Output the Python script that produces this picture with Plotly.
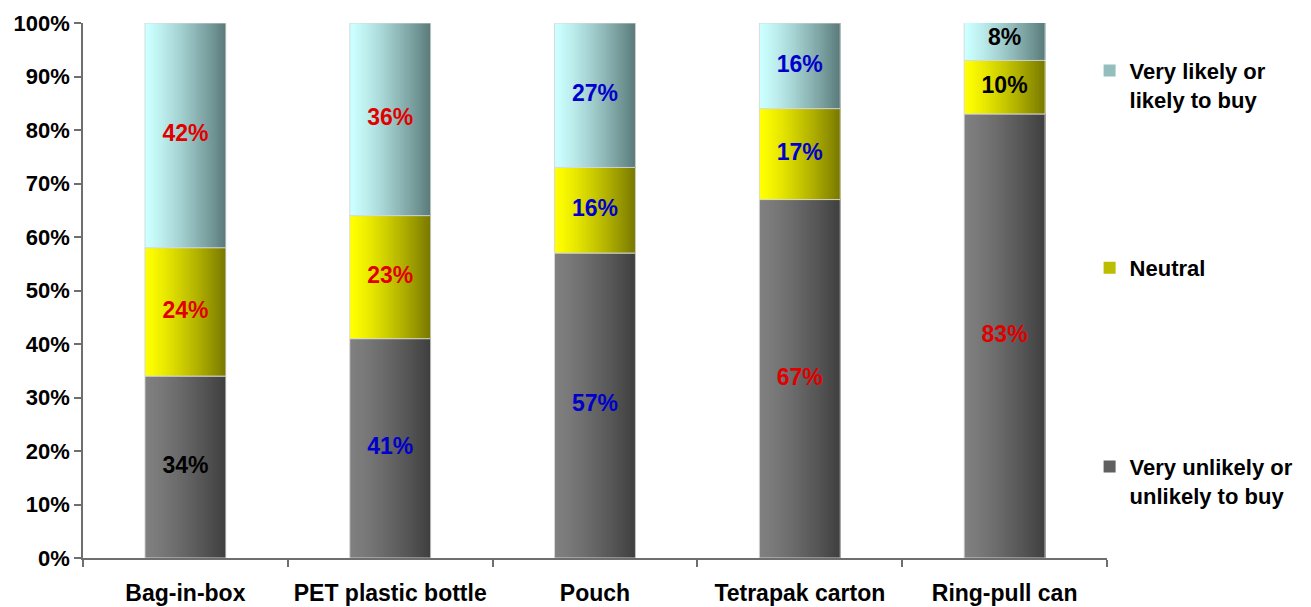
import numpy as np
import plotly.graph_objects as go

# Survey: likelihood of buying wine in each packaging format (% of respondents)
packages = ["Bag-in-box", "PET plastic bottle", "Pouch", "Tetrapak carton", "Ring-pull can"]
unlikely = [34, 41, 57, 67, 83]
neutral = [24, 23, 16, 17, 10]
likely = [42, 36, 27, 16, 8]

series_names = ["Very unlikely or<br>unlikely to buy", "Neutral", "Very likely or<br>likely to buy"]
# label colours per segment (bottom, middle, top) for each package
unlikely_label_colors = ["#000000", "#0000CC", "#0000CC", "#E00000", "#E00000"]
neutral_label_colors = ["#E00000", "#E00000", "#0000CC", "#0000CC", "#000000"]
likely_label_colors = ["#E00000", "#E00000", "#0000CC", "#0000CC", "#000000"]

# gradient end colours (left edge -> right edge) for each series
grad_left = [(0x80, 0x80, 0x80), (0xFF, 0xFF, 0x00), (0xCC, 0xFF, 0xFF)]
grad_right = [(0x40, 0x40, 0x40), (0x7A, 0x7A, 0x00), (0x5C, 0x7C, 0x7C)]
legend_ids = ["legend3", "legend2", "legend"]

FONT = "Liberation Sans, Arial, sans-serif"
BAR_W = 0.395
N_STRIPES = 40

values = np.array([unlikely, neutral, likely], dtype=float)
bases = np.vstack([np.zeros(len(packages)), np.cumsum(values, axis=0)[:-1]])
x_idx = np.arange(len(packages))

fig = go.Figure()

for s in range(3):
    lc = np.array(grad_left[s], dtype=float)
    rc = np.array(grad_right[s], dtype=float)
    for k in range(N_STRIPES):
        t = k / (N_STRIPES - 1)
        t = t ** 1.25
        c = lc + (rc - lc) * t
        color = "rgb(%d,%d,%d)" % tuple(np.round(c))
        step = BAR_W / N_STRIPES
        fig.add_trace(go.Bar(
            x=x_idx, y=values[s], base=bases[s],
            offset=-BAR_W / 2 + k * step, width=BAR_W - k * step,
            marker=dict(color=color, line=dict(width=0)),
            showlegend=False, hoverinfo="skip",
        ))
    # thin light outline around each segment
    fig.add_trace(go.Bar(
        x=x_idx, y=values[s], base=bases[s],
        offset=-BAR_W / 2, width=BAR_W,
        marker=dict(color="rgba(0,0,0,0)", line=dict(color="rgba(215,215,215,0.9)", width=1)),
        showlegend=False, hoverinfo="skip",
    ))

# legend swatches
for s in range(3):
    mid = "rgb(%d,%d,%d)" % tuple(np.round((np.array(grad_left[s]) + np.array(grad_right[s])) / 2))
    fig.add_trace(go.Bar(
        x=[None], y=[None], name="<b>%s</b>" % series_names[s].replace("<br>", "</b><br><b>"),
        marker=dict(color=mid, line=dict(width=0)),
        legend=legend_ids[s], showlegend=True,
    ))

# segment value labels
label_colors = [unlikely_label_colors, neutral_label_colors, likely_label_colors]
for s in range(3):
    mids = bases[s] + values[s] / 2
    fig.add_trace(go.Scatter(
        x=x_idx, y=mids, mode="text",
        text=["<b>%d%%</b>" % v for v in values[s]],
        textfont=dict(family=FONT, size=23, color=label_colors[s]),
        showlegend=False, hoverinfo="skip", cliponaxis=False,
    ))

legend_common = dict(
    font=dict(family=FONT, size=22, color="#000000"),
    bgcolor="rgba(0,0,0,0)", xanchor="left", valign="top",
    itemwidth=30,
)

fig.update_layout(
    width=1311, height=607,
    margin=dict(l=83, r=201, t=23, b=49),
    paper_bgcolor="white", plot_bgcolor="white",
    barmode="overlay",
    font=dict(family=FONT, size=20, color="#000000"),
    xaxis=dict(
        range=[-0.5, len(packages) - 0.5],
        tickmode="array", tickvals=list(x_idx),
        ticktext=["<b>%s</b>" % p for p in packages],
        showline=True, linecolor="#6e6e6e", linewidth=1.5,
        showgrid=False, zeroline=False, fixedrange=True,
        tickfont=dict(family=FONT, size=23, color="#000000"),
        ticklabelstandoff=14, automargin=False,
    ),
    yaxis=dict(
        range=[0, 100], tickvals=list(range(0, 101, 10)),
        ticktext=["<b>%d%%</b>" % v for v in range(0, 101, 10)],
        showline=True, linecolor="#6e6e6e", linewidth=1.5,
        ticks="outside", ticklen=7, tickcolor="#6e6e6e", tickwidth=1.5,
        showgrid=False, zeroline=False, fixedrange=True,
        tickfont=dict(family=FONT, size=22, color="#000000"),
        automargin=False,
    ),
    legend=dict(x=0.983, y=0.95, yanchor="top", **legend_common),
    legend2=dict(x=0.983, y=0.542, yanchor="middle", **legend_common),
    legend3=dict(x=0.983, y=0.21, yanchor="top", **legend_common),
)

# tick marks at category boundaries along the x axis
fig.update_xaxes(ticks="",
                 minor=dict(tickvals=list(np.arange(-0.5, len(packages), 1.0)),
                            ticks="outside", ticklen=7, tickcolor="#6e6e6e", tickwidth=1.5))

fig.write_html("out.html")
